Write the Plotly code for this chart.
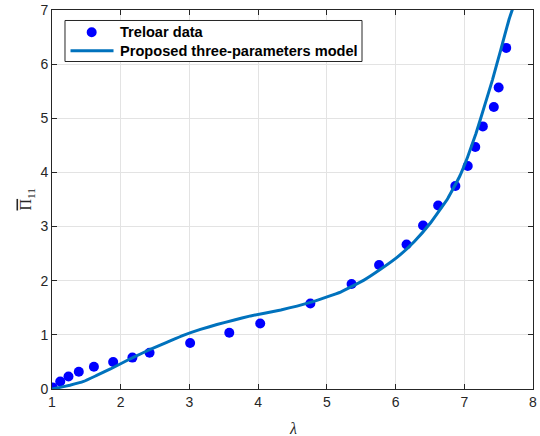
import plotly.graph_objects as go

# Treloar uniaxial tension data
treloar_stretch = [1.0, 1.01, 1.12, 1.24, 1.39, 1.61, 1.89, 2.17, 2.42, 3.01, 3.58, 4.03,
                   4.76, 5.36, 5.76, 6.16, 6.40, 6.62, 6.87, 7.05, 7.16, 7.27, 7.43, 7.50, 7.61]
treloar_stress = [0.0, 0.03, 0.14, 0.23, 0.32, 0.41, 0.50, 0.58, 0.67, 0.85, 1.04, 1.21,
                  1.58, 1.94, 2.29, 2.67, 3.02, 3.39, 3.75, 4.12, 4.47, 4.85, 5.21, 5.57, 6.30]

# Proposed three-parameter model response
model_stretch = [1.0, 1.04, 1.26, 1.46, 1.65, 1.85, 2.02, 2.19, 2.43, 2.67, 2.91, 3.16,
                 3.40, 3.64, 3.89, 4.33, 4.76, 5.20, 5.54, 5.78, 6.03, 6.27, 6.51, 6.76,
                 6.93, 7.05, 7.17, 7.29, 7.41, 7.53, 7.65, 7.70, 7.75]
model_stress = [0.0, 0.01, 0.07, 0.14, 0.25, 0.37, 0.48, 0.59, 0.73, 0.86, 0.99, 1.10,
                1.19, 1.27, 1.35, 1.46, 1.60, 1.79, 2.01, 2.21, 2.44, 2.72, 3.07, 3.52,
                3.92, 4.29, 4.72, 5.21, 5.71, 6.26, 6.82, 7.01, 7.22]

series_names = ["Treloar data", "Proposed three-parameters model"]
x_ticks = [1, 2, 3, 4, 5, 6, 7, 8]
y_ticks = [0, 1, 2, 3, 4, 5, 6, 7]

axis_color = "#262626"
grid_color = "#e3e3e3"
data_color = "#0000ff"
model_color = "#0072bd"
sans = "Liberation Sans, Arial, sans-serif"
serif = "Liberation Serif, Times New Roman, serif"
tick_font = dict(family=sans, size=14, color=axis_color)

fig = go.Figure()
fig.add_trace(go.Scatter(
    x=treloar_stretch, y=treloar_stress, mode="markers", name=series_names[0],
    marker=dict(color=data_color, size=10, line=dict(width=0)),
))
fig.add_trace(go.Scatter(
    x=model_stretch, y=model_stress, mode="lines", name=series_names[1],
    line=dict(color=model_color, width=3, shape="spline", smoothing=0.3),
))

axis_common = dict(
    showgrid=True, gridcolor=grid_color, gridwidth=1, zeroline=False,
    showline=True, linecolor=axis_color, linewidth=1, mirror="ticks",
    ticks="inside", ticklen=5, tickcolor=axis_color, tickfont=tick_font,
    automargin=False,
)

fig.update_layout(
    width=540, height=436,
    margin=dict(l=52, r=7, t=10, b=47),
    paper_bgcolor="white", plot_bgcolor="white",
    showlegend=False,
    xaxis=dict(range=[1, 8], tickvals=x_ticks, ticktext=[str(v) for v in x_ticks],
               **axis_common),
    yaxis=dict(range=[0, 7], tickvals=y_ticks, ticktext=[str(v) for v in y_ticks],
               **axis_common),
)

# Compact boxed legend in the upper-left corner
fig.add_shape(type="rect", xref="paper", yref="paper",
              x0=0.0270, x1=0.6445, y0=0.8641, y1=0.9723,
              line=dict(color=axis_color, width=1), fillcolor="white", layer="above")
fig.add_shape(type="circle", xref="paper", yref="paper",
              xsizemode="pixel", ysizemode="pixel", xanchor=0.0825, yanchor=0.9412,
              x0=-5, x1=5, y0=-5, y1=5,
              line=dict(width=0), fillcolor=data_color, layer="above")
fig.add_shape(type="line", xref="paper", yref="paper",
              x0=0.0385, x1=0.1279, y0=0.8926, y1=0.8926,
              line=dict(color=model_color, width=3), layer="above")
for name, ypos in zip(series_names, [0.9412, 0.8926]):
    fig.add_annotation(
        text=name, xref="paper", yref="paper", x=0.1372, y=ypos,
        xanchor="left", yanchor="middle", showarrow=False,
        font=dict(family=sans, size=14.6, color="black", weight="bold"),
    )

# Axis labels
fig.add_annotation(
    text="λ", xref="paper", yref="paper", x=0.5, y=-0.103,
    xanchor="center", yanchor="middle", showarrow=False,
    font=dict(family=serif, size=16, color=axis_color, style="italic"),
)
fig.add_annotation(
    text="<span style='text-decoration:overline'>Π</span><sub>11</sub>",
    xref="paper", yref="paper", x=-0.052, y=0.5, textangle=-90,
    xanchor="center", yanchor="middle", showarrow=False,
    font=dict(family=serif, size=16, color=axis_color),
)

fig.write_html("out.html")
